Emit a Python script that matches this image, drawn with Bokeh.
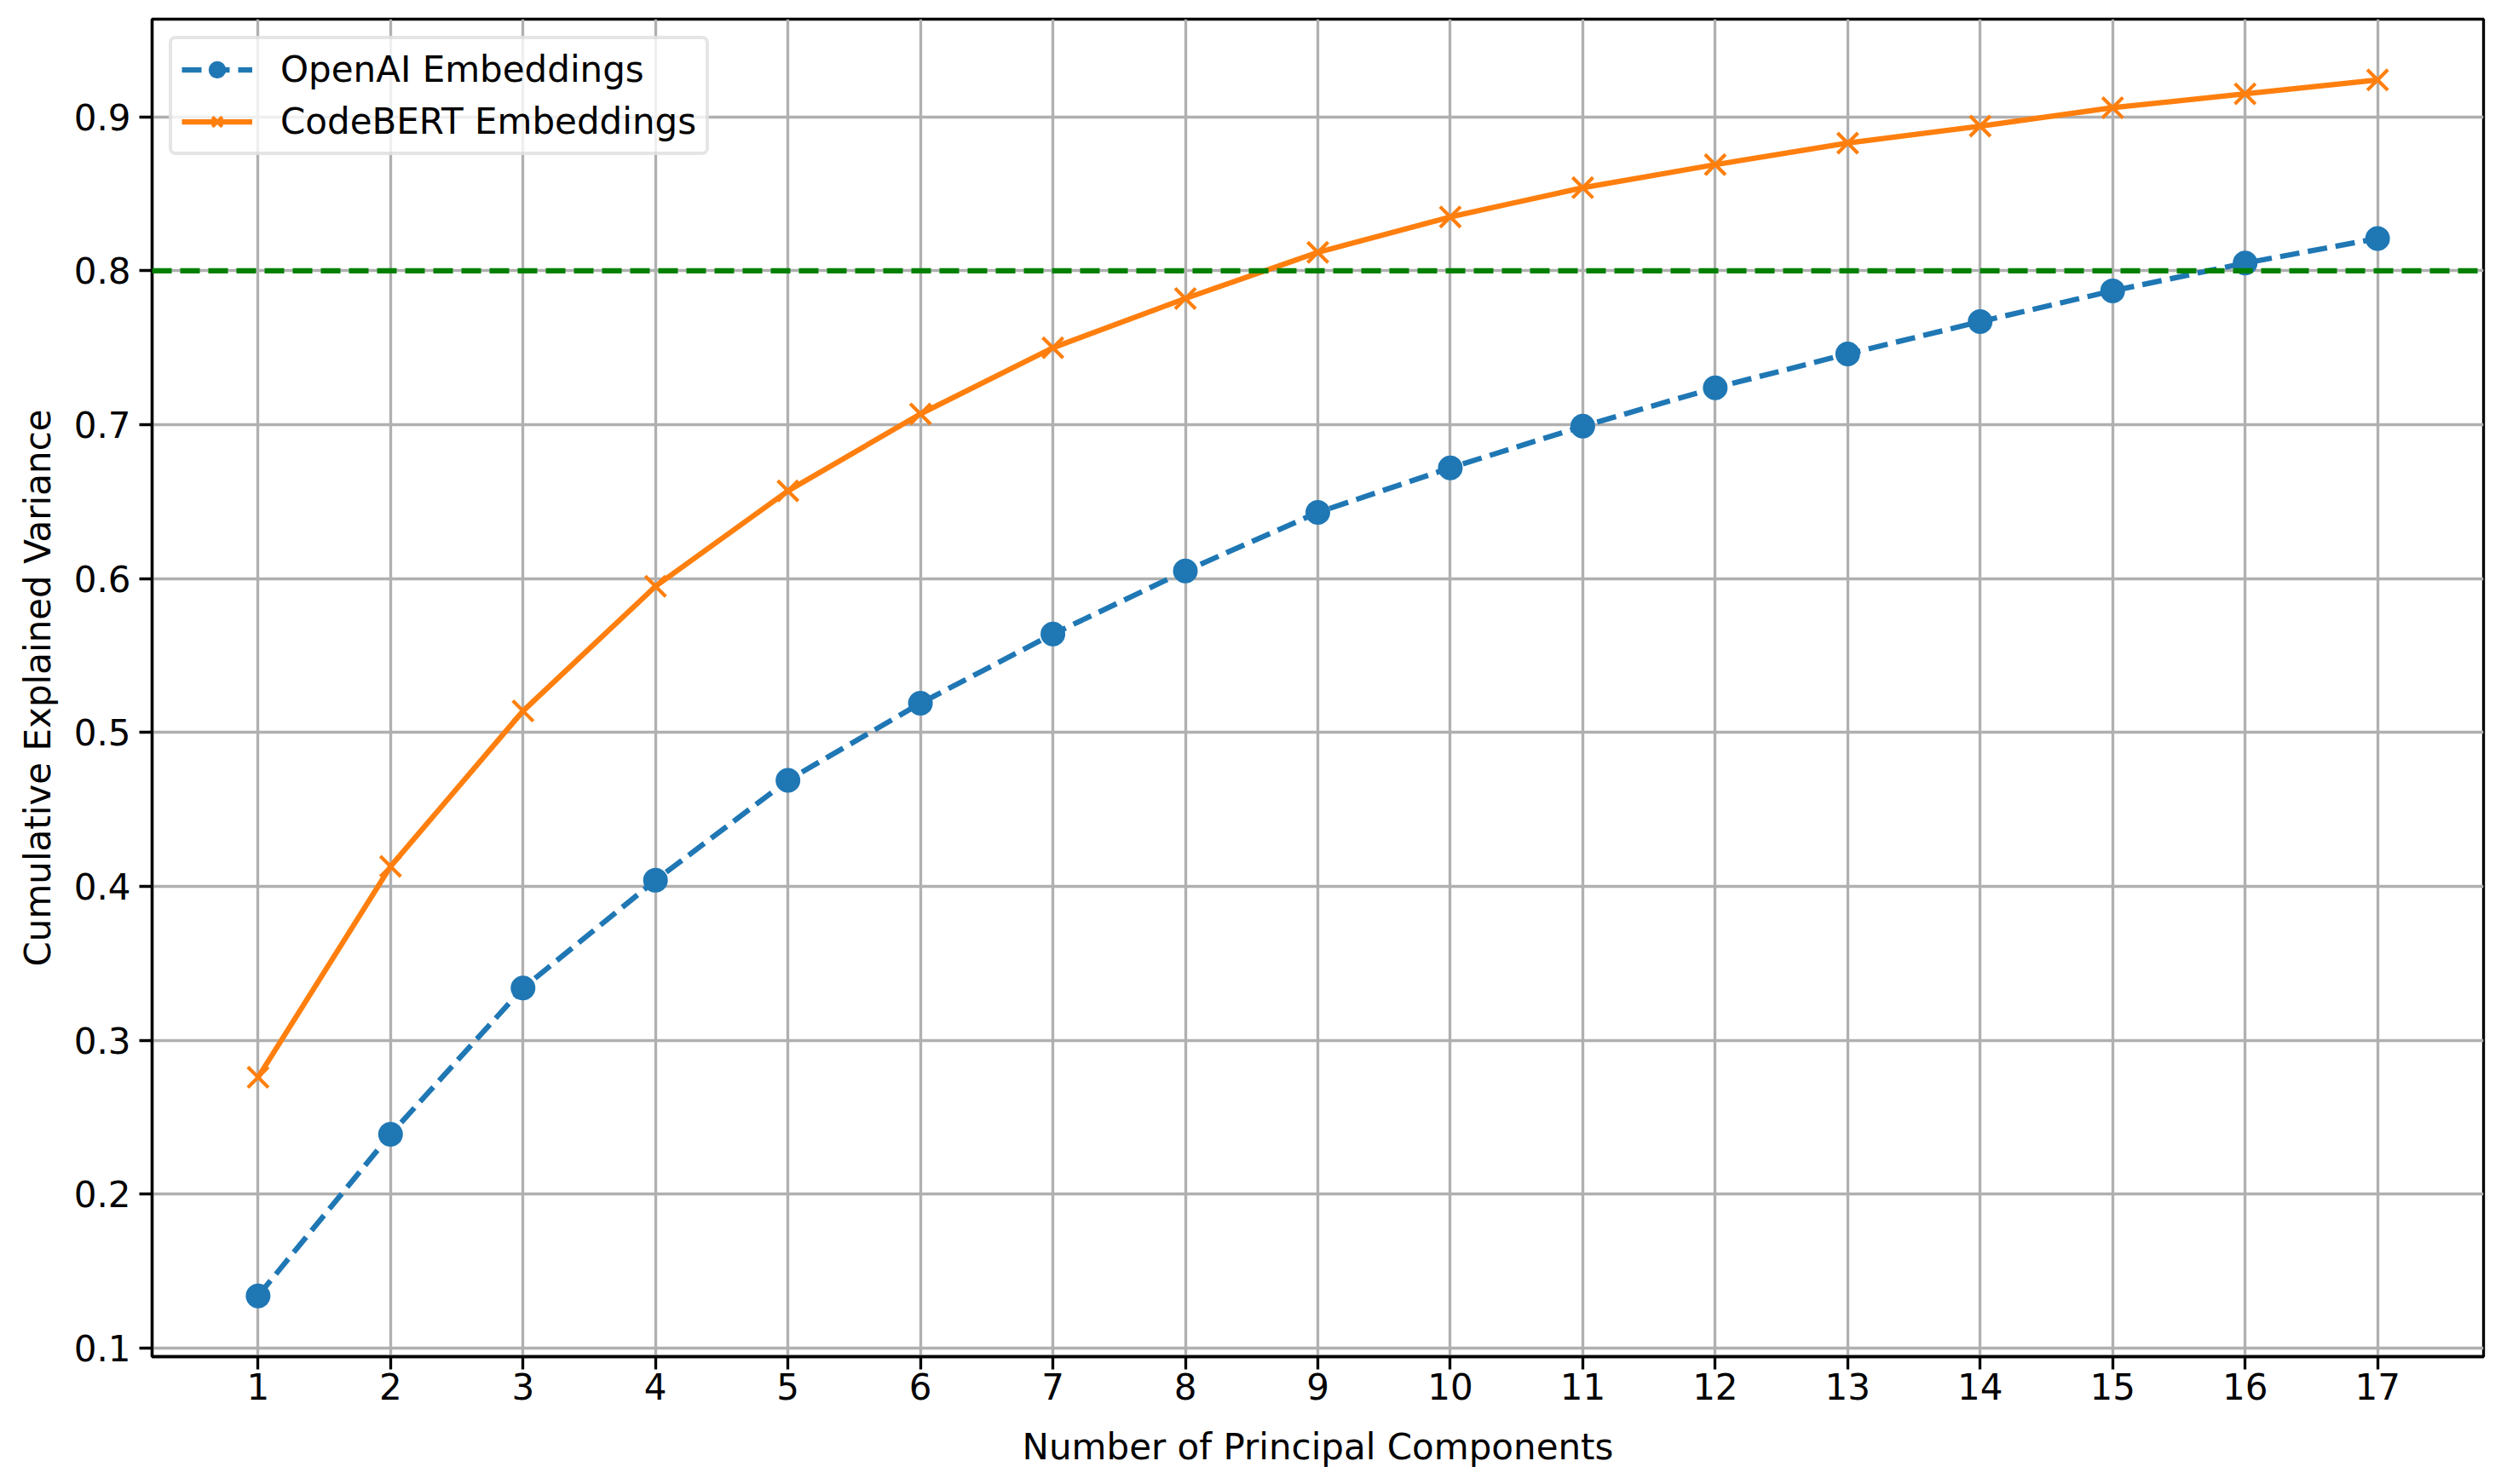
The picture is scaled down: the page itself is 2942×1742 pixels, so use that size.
from bokeh.plotting import figure
from bokeh.models import ColumnDataSource, Range1d, FixedTicker, Span, Legend
from bokeh.embed import file_html
from bokeh.resources import INLINE


components = list(range(1, 18))
openai_var = [0.134, 0.239, 0.334, 0.404, 0.469, 0.519, 0.564, 0.605, 0.643,
              0.672, 0.699, 0.724, 0.746, 0.767, 0.787, 0.805, 0.821]
codebert_var = [0.276, 0.413, 0.514, 0.595, 0.657, 0.707, 0.750, 0.782, 0.812,
                0.835, 0.854, 0.869, 0.883, 0.894, 0.906, 0.915, 0.924]
threshold = 0.8
y_ticks = [0.1, 0.2, 0.3, 0.4, 0.5, 0.6, 0.7, 0.8, 0.9]

FONT = "DejaVu Sans"
FS = "42px"
LW = 6.25      # 1.5pt at 300 dpi
THIN = 3.33    # 0.8pt at 300 dpi

source = ColumnDataSource(data=dict(n=components, openai=openai_var, codebert=codebert_var))

# matplotlib-style 5% margins
xmin, xmax = min(components), max(components)
ymin, ymax = min(openai_var + codebert_var), max(openai_var + codebert_var)
xpad = (xmax - xmin) * 0.05
ypad = (ymax - ymin) * 0.05

p = figure(width=2926, height=1726,
           x_range=Range1d(xmin - xpad, xmax + xpad),
           y_range=Range1d(ymin - ypad, ymax + ypad),
           x_axis_label='Number of Principal Components',
           y_axis_label='Cumulative Explained Variance',
           output_backend="svg", toolbar_location=None,
           min_border_left=178, min_border_right=12,
           min_border_top=22, min_border_bottom=134)

blue = "#1f77b4"
orange = "#ff7f0e"

r1 = p.line('n', 'openai', source=source, line_width=LW, color=blue, line_dash="23 10")
r2 = p.scatter('n', 'openai', source=source, marker="circle", size=25,
               fill_color=blue, line_color=blue, line_width=4)
r3 = p.line('n', 'codebert', source=source, line_width=LW, color=orange)
r4 = p.scatter('n', 'codebert', source=source, marker="x", size=34,
               line_color=orange, line_width=4.17)

p.add_layout(Span(location=threshold, dimension='width', line_color="#008000",
                  line_width=LW, line_dash="23 10"))

legend = Legend(items=[("OpenAI Embeddings", [r1, r2]),
                       ("CodeBERT Embeddings", [r3, r4])],
                location="top_left")
legend.label_text_font = FONT
legend.label_text_font_size = FS
legend.label_text_color = "black"
legend.glyph_width = 83
legend.glyph_height = 41
legend.label_height = 41
legend.label_standoff = 33
legend.spacing = 12
legend.padding = 11
legend.margin = 20
legend.border_line_color = "#cccccc"
legend.border_line_width = 4
legend.border_radius = 8
legend.background_fill_alpha = 0.8
p.add_layout(legend)

p.xaxis.ticker = FixedTicker(ticks=components)
p.yaxis.ticker = FixedTicker(ticks=y_ticks)

for ax in [p.xaxis, p.yaxis]:
    ax.axis_line_width = THIN
    ax.axis_line_color = "black"
    ax.major_tick_line_width = THIN
    ax.major_tick_line_color = "black"
    ax.major_tick_out = 15
    ax.major_tick_in = 0
    ax.minor_tick_line_color = None
    ax.major_label_text_font = FONT
    ax.major_label_text_font_size = FS
    ax.major_label_text_color = "black"
    ax.axis_label_text_font = FONT
    ax.axis_label_text_font_size = FS
    ax.axis_label_text_font_style = "normal"
    ax.axis_label_text_color = "black"

p.xaxis.major_label_standoff = 4
p.yaxis.major_label_standoff = 10
p.xaxis.axis_label_standoff = 28
p.yaxis.axis_label_standoff = 15

p.xgrid.grid_line_color = "#b0b0b0"
p.ygrid.grid_line_color = "#b0b0b0"
p.xgrid.grid_line_width = THIN
p.ygrid.grid_line_width = THIN

p.outline_line_color = "black"
p.outline_line_width = THIN
p.outline_line_alpha = 1.0
p.background_fill_color = "white"
p.border_fill_color = "white"

open("out.html", "w").write(file_html(p, INLINE))
